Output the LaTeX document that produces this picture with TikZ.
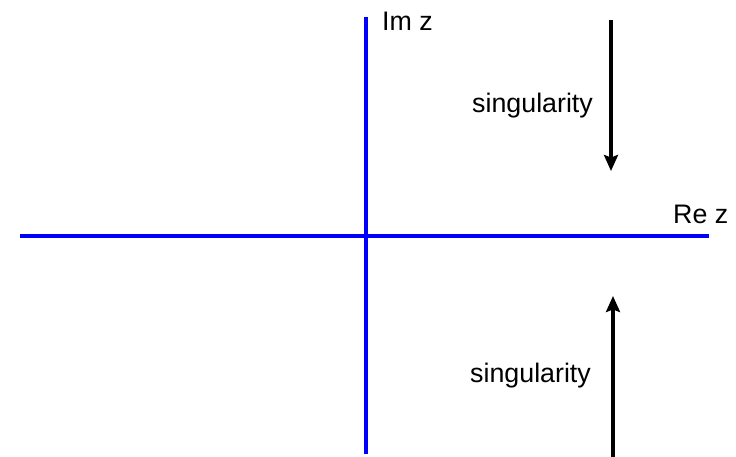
\documentclass[tikz,border=0pt]{standalone}
\usepackage{fontspec}
\setmainfont{Liberation Sans}
\usetikzlibrary{arrows.meta}
\begin{document}
\begin{tikzpicture}[x=1pt,y=-1pt,
  axis/.style={draw=blue,line width=3.2pt},
  sarrow/.style={draw=black,line width=3.2pt,-{Stealth[length=16pt,width=14pt,inset=2.5pt]}},
  lbl/.style={anchor=base west,inner sep=0pt,font=\fontsize{26.8}{30}\selectfont}]
\useasboundingbox (0,0) rectangle (736,457);
\coordinate (xl) at (20,236);
\coordinate (xr) at (709,236);
\coordinate (yt) at (366,17);
\coordinate (yb) at (366,454);
\draw[axis] (xl) -- (xr);
\draw[axis] (yt) -- (yb);
\node[lbl] (im) at (382,31) {Im z};
\node[lbl] (re) at (673,223) {Re z};
\node[lbl] (s1) at (472,113) {singularity};
\node[lbl] (s2) at (470,382) {singularity};
\coordinate (a1s) at (611,20);
\coordinate (a1e) at (611,171);
\coordinate (a2s) at (613,457);
\coordinate (a2e) at (613,296);
\draw[sarrow] (a1s) -- (a1e);
\draw[sarrow] (a2s) -- (a2e);
\end{tikzpicture}
\end{document}
